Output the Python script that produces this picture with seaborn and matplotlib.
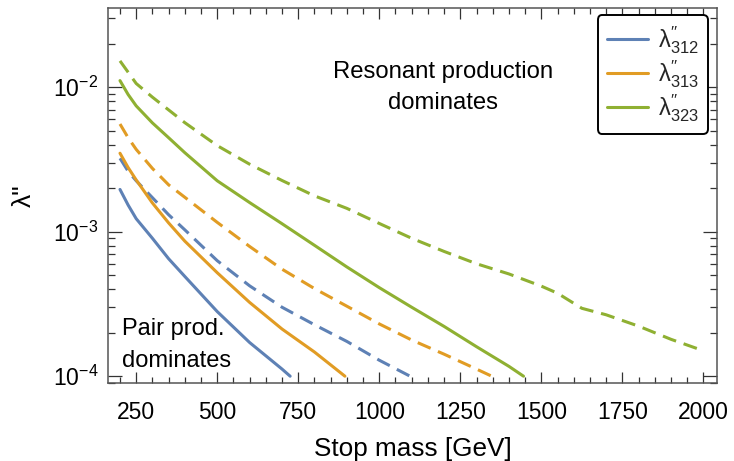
import numpy as np
import pandas as pd
import matplotlib
matplotlib.use("Agg")
import matplotlib.pyplot as plt
import seaborn as sns
from matplotlib.lines import Line2D
from matplotlib.ticker import LogLocator, MultipleLocator, NullFormatter, FixedLocator

sns.set_theme(style="white")
plt.rcParams["font.family"] = ["Liberation Sans", "DejaVu Sans"]
plt.rcParams["mathtext.fontset"] = "custom"
plt.rcParams["mathtext.rm"] = "Liberation Sans"
plt.rcParams["mathtext.it"] = "Liberation Sans:italic"
plt.rcParams["mathtext.bf"] = "Liberation Sans:bold"

# ---------------- data ----------------
couplings = ["312", "313", "323"]
colors = ["#5E81B5", "#E19C24", "#8FB032"]

# lambda''_312
m_312_solid = [200, 225, 250, 300, 350, 400, 500, 600, 700, 725]
l_312_solid = [1.96e-3, 1.53e-3, 1.23e-3, 9.0e-4, 6.5e-4, 4.9e-4, 2.8e-4, 1.71e-4, 1.12e-4, 1.0e-4]
m_312_dash = [200, 225, 250, 300, 350, 400, 500, 600, 700, 800, 900, 1000, 1095]
l_312_dash = [3.22e-3, 2.62e-3, 2.25e-3, 1.72e-3, 1.31e-3, 1.03e-3, 6.3e-4, 4.22e-4, 3.0e-4,
              2.27e-4, 1.74e-4, 1.29e-4, 1.0e-4]

# lambda''_313
m_313_solid = [200, 225, 250, 300, 350, 400, 500, 600, 700, 800, 894]
l_313_solid = [3.49e-3, 2.78e-3, 2.28e-3, 1.58e-3, 1.15e-3, 8.6e-4, 5.2e-4, 3.24e-4, 2.12e-4,
               1.47e-4, 1.0e-4]
m_313_dash = [200, 225, 250, 300, 350, 400, 500, 600, 700, 800, 900, 1000, 1100, 1200, 1300, 1347]
l_313_dash = [5.56e-3, 4.47e-3, 3.71e-3, 2.74e-3, 2.11e-3, 1.73e-3, 1.16e-3, 7.9e-4, 5.5e-4,
              4.04e-4, 3.05e-4, 2.3e-4, 1.78e-4, 1.42e-4, 1.12e-4, 1.0e-4]

# lambda''_323
m_323_solid = [200, 225, 250, 300, 350, 400, 500, 600, 700, 800, 900, 1000, 1100, 1200, 1300,
               1400, 1445]
l_323_solid = [1.11e-2, 8.9e-3, 7.42e-3, 5.66e-3, 4.47e-3, 3.52e-3, 2.25e-3, 1.59e-3, 1.135e-3,
               8.05e-4, 5.7e-4, 4.1e-4, 3.0e-4, 2.21e-4, 1.6e-4, 1.17e-4, 1.0e-4]
m_323_dash = [200, 250, 300, 400, 500, 600, 700, 800, 900, 1000, 1100, 1200, 1300, 1400, 1500,
              1550, 1625, 1700, 1800, 1900, 2000]
l_323_dash = [1.52e-2, 1.06e-2, 8.53e-3, 5.68e-3, 3.94e-3, 2.93e-3, 2.26e-3, 1.77e-3, 1.45e-3,
              1.14e-3, 9.0e-4, 7.3e-4, 6.0e-4, 5.1e-4, 4.2e-4, 3.75e-4, 2.95e-4, 2.66e-4, 2.22e-4,
              1.80e-4, 1.5e-4]

x_ticks = [250, 500, 750, 1000, 1250, 1500, 1750, 2000]
x_label = "Stop mass [GeV]"
y_label = "λ\""
text_res = "Resonant production\ndominates"
text_pair = "Pair prod.\ndominates"

# ---------------- build long table ----------------
series = [
    ("312", "solid", m_312_solid, l_312_solid),
    ("312", "dashed", m_312_dash, l_312_dash),
    ("313", "solid", m_313_solid, l_313_solid),
    ("313", "dashed", m_313_dash, l_313_dash),
    ("323", "solid", m_323_solid, l_323_solid),
    ("323", "dashed", m_323_dash, l_323_dash),
]
frames = []
for c, k, m, l in series:
    frames.append(pd.DataFrame({"mass": m, "lam": l, "coupling": c, "kind": k}))
df = pd.concat(frames, ignore_index=True)

# ---------------- figure ----------------
W, H = 734, 461
fig = plt.figure(figsize=(W / 100, H / 100), dpi=100)
ax = fig.add_axes([108 / W, 1 - 383.3 / H, (717 - 108) / W, (383.3 - 8) / H])

LW = 2.2
palette = dict(zip(couplings, colors))
sns.lineplot(data=df, x="mass", y="lam", hue="coupling", style="kind",
             palette=palette, dashes={"solid": "", "dashed": (4.6, 2.6)},
             linewidth=LW, legend=False, errorbar=None, ax=ax)

ax.set_yscale("log")
ax.set_xlim(163, 2042)
ax.set_ylim(8.93e-5, 3.53e-2)

ax.xaxis.set_major_locator(FixedLocator(x_ticks))
ax.xaxis.set_minor_locator(MultipleLocator(50))
ax.yaxis.set_major_locator(LogLocator(base=10, numticks=10))
ax.yaxis.set_minor_locator(LogLocator(base=10, subs=np.arange(2, 10), numticks=20))
ax.yaxis.set_minor_formatter(NullFormatter())

spine_col = "#555555"
for s in ax.spines.values():
    s.set_visible(True)
    s.set_color(spine_col)
    s.set_linewidth(1.1)

ax.tick_params(axis="both", which="both", direction="in", top=True, right=True,
               bottom=True, left=True, color="#333333", width=0.9)
ax.tick_params(axis="x", which="major", length=8, pad=13, labelsize=16.5, labelcolor="black")
ax.tick_params(axis="x", which="minor", length=4)
ax.tick_params(axis="y", which="major", length=10, pad=7, labelsize=16.5, labelcolor="black")
ax.tick_params(axis="y", which="minor", length=5)

ax.set_xlabel(x_label, fontsize=18.8, color="black", labelpad=9)
ax.set_ylabel(y_label, fontsize=19, color="black", labelpad=12)

ax.text((443 - 108) / 609, 1 - (87.5 - 8) / 375.3, text_res, transform=ax.transAxes,
        ha="center", va="center", multialignment="center", fontsize=17.2,
        linespacing=1.55, color="black")
ax.text((122 - 108) / 609, 1 - (345 - 8) / 375.3, text_pair, transform=ax.transAxes,
        ha="left", va="center", multialignment="left", fontsize=17.0,
        linespacing=1.6, color="black")

handles = [Line2D([0], [0], color=c, lw=LW) for c in colors]
labels = [r"$\mathrm{λ}^{\prime\prime}_{%s}$" % c for c in couplings]
leg = ax.legend(handles, labels, loc="upper right",
                bbox_to_anchor=(708 / W, 1 - 15 / H), bbox_transform=fig.transFigure,
                borderaxespad=0, fontsize=17, frameon=True, fancybox=True,
                edgecolor="black", framealpha=1, handlelength=1.75, handletextpad=0.4,
                labelspacing=0.1, borderpad=0.4)
leg.get_frame().set_linewidth(1.4)

fig.savefig("out.png", dpi=100)
